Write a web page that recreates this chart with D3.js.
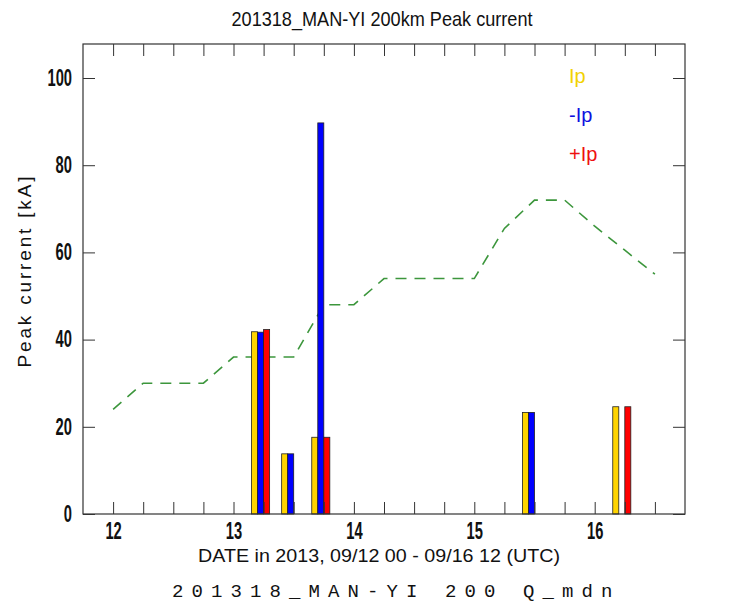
<!DOCTYPE html>
<html>
<head>
<meta charset="utf-8">
<script src="https://cdn.jsdelivr.net/npm/d3@7"></script>
<style>
  body { margin: 0; background: #fff; }
  .tick line { stroke: #333; }
</style>
</head>
<body>
<div id="chart"></div>
<script>
// storm 201318 MAN-YI, lightning peak current within 200km
var barTimes = [13.25, 13.5, 13.75, 15.5, 16.25];   // day of month (UTC)
var ipAll = [41.8, 13.8, 17.6, 23.3, 24.6];         // Ip
var ipNeg = [41.7, 13.8, 89.7, 23.3, 0];            // -Ip
var ipPos = [42.3, 0, 17.6, 0, 24.6];               // +Ip

// dashed green line (6-hourly)
var lineTimes = [12, 12.25, 12.5, 12.75, 13, 13.25, 13.5, 13.75, 14, 14.25,
                 14.5, 14.75, 15, 15.25, 15.5, 15.75, 16, 16.25, 16.5];
var lineVals = [24, 30, 30, 30, 36, 36, 36, 48, 48, 54,
                54, 54, 54, 65.5, 72, 72, 66, 60.5, 55];

var xTicks = [12, 12.25, 12.5, 12.75, 13, 13.25, 13.5, 13.75, 14, 14.25,
              14.5, 14.75, 15, 15.25, 15.5, 15.75, 16, 16.25, 16.5];
var yTicks = [0, 20, 40, 60, 80, 100];

var width = 755,
    height = 603;
var pLeft = 83, pRight = 685, pTop = 44, pBottom = 514;
var FONT = "Liberation Sans, Arial, sans-serif";

var svg = d3.select("#chart").append("svg")
    .attr("width", width)
    .attr("height", height)
    .style("background", "#fff");

var x = d3.scaleLinear().domain([11.75, 16.75]).range([pLeft, pRight]);
var y = d3.scaleLinear().domain([0, 107.8]).range([pBottom, pTop]);

// squeeze glyphs horizontally (the original uses a narrow font)
function narrow(sel, f) {
  sel.each(function() {
    var len = this.getComputedTextLength();
    if (len > 0) {
      d3.select(this)
        .attr("textLength", len * f)
        .attr("lengthAdjust", "spacingAndGlyphs");
    }
  });
}

var barW = 0.05; // days, one bar

var series = [
  {vals: ipAll, color: "#FFD400", off: -2},
  {vals: ipNeg, color: "#0000FF", off: -1},
  {vals: ipPos, color: "#FF0000", off: 0}
];

// line first, bars on top
var line = d3.line()
    .x(function(d) { return x(d.t); })
    .y(function(d) { return y(d.v); });

svg.append("path")
  .attr("d", line(lineTimes.map(function(t, i) { return {t: t, v: lineVals[i]}; })))
  .attr("fill", "none")
  .attr("stroke", "#3c963c")
  .attr("stroke-width", 1.6)
  .attr("stroke-dasharray", "11,8");

series.forEach(function(s) {
  var data = barTimes.map(function(t, i) { return {t: t, v: s.vals[i]}; })
                     .filter(function(d) { return d.v > 0; });
  svg.append("g").selectAll("rect")
    .data(data)
    .join("rect")
      .attr("x", function(d) { return x(d.t + s.off * barW); })
      .attr("y", function(d) { return y(d.v); })
      .attr("width", function(d) { return x(d.t + (s.off + 1) * barW) - x(d.t + s.off * barW); })
      .attr("height", function(d) { return pBottom - y(d.v); })
      .attr("fill", s.color)
      .attr("stroke", "#222")
      .attr("stroke-width", 0.8);
});

// frame
svg.append("rect")
  .attr("x", pLeft).attr("y", pTop)
  .attr("width", pRight - pLeft).attr("height", pBottom - pTop)
  .attr("fill", "none").attr("stroke", "#333").attr("stroke-width", 1.2);

var fmtX = function(d) { return Number.isInteger(d) ? d : ""; };

svg.append("g")
  .attr("transform", "translate(0," + pBottom + ")")
  .call(d3.axisBottom(x).tickValues(xTicks).tickFormat(fmtX).tickSizeInner(-12).tickSizeOuter(0).tickPadding(9))
  .call(function(g) { g.select(".domain").remove(); })
  .selectAll("text")
    .attr("font-family", FONT).attr("font-size", 23).attr("font-weight", "bold").attr("fill", "#111")
    .call(narrow, 0.64);

svg.append("g")
  .attr("transform", "translate(0," + pTop + ")")
  .call(d3.axisTop(x).tickValues(xTicks).tickFormat("").tickSizeInner(-12).tickSizeOuter(0))
  .call(function(g) { g.select(".domain").remove(); });

svg.append("g")
  .attr("transform", "translate(" + pLeft + ",0)")
  .call(d3.axisLeft(y).tickValues(yTicks).tickSizeInner(-12).tickSizeOuter(0).tickPadding(11))
  .call(function(g) { g.select(".domain").remove(); })
  .selectAll("text")
    .attr("font-family", FONT).attr("font-size", 23).attr("font-weight", "bold").attr("fill", "#111")
    .call(narrow, 0.64);

svg.append("g")
  .attr("transform", "translate(" + pRight + ",0)")
  .call(d3.axisRight(y).tickValues(yTicks).tickFormat("").tickSizeInner(-12).tickSizeOuter(0))
  .call(function(g) { g.select(".domain").remove(); });

// titles
svg.append("text")
  .attr("x", 382).attr("y", 26)
  .attr("text-anchor", "middle")
  .attr("font-family", FONT)
  .attr("font-size", 21)
  .attr("fill", "#111")
  .attr("textLength", 301)
  .attr("lengthAdjust", "spacingAndGlyphs")
  .text("201318_MAN-YI 200km Peak current");

svg.append("text")
  .attr("x", 379).attr("y", 562)
  .attr("text-anchor", "middle")
  .attr("font-family", FONT)
  .attr("font-size", 19)
  .attr("fill", "#111")
  .attr("textLength", 362)
  .attr("lengthAdjust", "spacingAndGlyphs")
  .text("DATE in 2013, 09/12 00 - 09/16 12 (UTC)");

svg.append("text")
  .attr("transform", "translate(31,272) rotate(-90)")
  .attr("text-anchor", "middle")
  .attr("font-family", FONT)
  .attr("font-size", 19)
  .attr("fill", "#111")
  .attr("textLength", 191)
  .attr("lengthAdjust", "spacing")
  .text("Peak current [kA]");

svg.append("text")
  .attr("x", 172).attr("y", 597)
  .attr("font-family", "Liberation Mono, DejaVu Sans Mono, monospace")
  .attr("font-size", 19)
  .attr("letter-spacing", 8.1)
  .attr("fill", "#111")
  .text("201318_MAN-YI 200 Q_mdn");

// legend
var legend = [
  {label: "Ip", color: "#F2D200", y: 83},
  {label: "-Ip", color: "#1010E0", y: 122},
  {label: "+Ip", color: "#EE1010", y: 161}
];
svg.selectAll(".leg")
  .data(legend)
  .join("text")
    .attr("class", "leg")
    .attr("x", 569)
    .attr("y", function(d) { return d.y; })
    .attr("font-family", FONT)
    .attr("font-size", 20)
    .attr("fill", function(d) { return d.color; })
    .text(function(d) { return d.label; });
</script>
</body>
</html>
